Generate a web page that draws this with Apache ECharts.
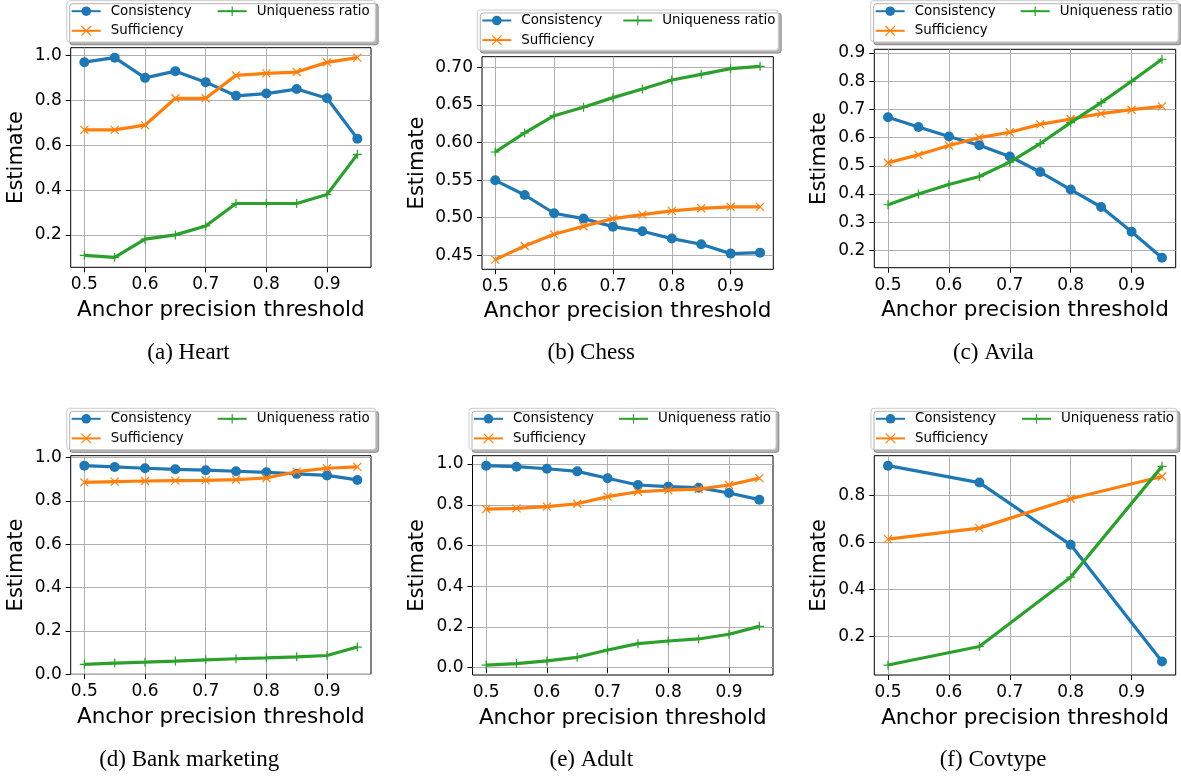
<!DOCTYPE html>
<html><head><meta charset="utf-8">
<script src="https://cdn.jsdelivr.net/npm/echarts@6/dist/echarts.min.js"></script>
<style>html,body{margin:0;padding:0;background:#fff}#c{width:1181px;height:778px}</style>
</head><body><div id="c"></div>
<script>
// ---------------- DATA ----------------
const seriesNames = ['Consistency', 'Sufficiency', 'Uniqueness ratio'];
const thresholds = [0.5, 0.55, 0.6, 0.65, 0.7, 0.75, 0.8, 0.85, 0.9, 0.95];
const covtypeThresholds = [0.5, 0.65, 0.8, 0.95];
const xTickLabels = ['0.5', '0.6', '0.7', '0.8', '0.9'];
const xAxisTitle = 'Anchor precision threshold';
const yAxisTitle = 'Estimate';

const heartConsistency = [0.970, 0.990, 0.900, 0.930, 0.881, 0.820, 0.830, 0.850, 0.809, 0.629];
const heartSufficiency = [0.668, 0.668, 0.689, 0.809, 0.809, 0.911, 0.920, 0.926, 0.969, 0.990];
const heartUniqueness  = [0.109, 0.100, 0.181, 0.200, 0.240, 0.340, 0.340, 0.340, 0.380, 0.559];
const heartYTickLabels = ['0.2', '0.4', '0.6', '0.8', '1.0'];

const chessConsistency = [0.5497, 0.5302, 0.5059, 0.4988, 0.4881, 0.4819, 0.4722, 0.4646, 0.4522, 0.4535];
const chessSufficiency = [0.4442, 0.4624, 0.4779, 0.4886, 0.4988, 0.5041, 0.5090, 0.5125, 0.5143, 0.5143];
const chessUniqueness  = [0.5874, 0.6127, 0.6357, 0.6468, 0.6597, 0.6712, 0.6832, 0.6907, 0.6982, 0.7013];
const chessYTickLabels = ['0.45', '0.50', '0.55', '0.60', '0.65', '0.70'];

const avilaConsistency = [0.672, 0.638, 0.604, 0.573, 0.533, 0.478, 0.416, 0.354, 0.266, 0.174];
const avilaSufficiency = [0.511, 0.539, 0.572, 0.600, 0.619, 0.647, 0.666, 0.685, 0.699, 0.711];
const avilaUniqueness  = [0.362, 0.400, 0.434, 0.462, 0.513, 0.579, 0.653, 0.724, 0.800, 0.878];
const avilaYTickLabels = ['0.2', '0.3', '0.4', '0.5', '0.6', '0.7', '0.8', '0.9'];

const bankConsistency = [0.963, 0.957, 0.951, 0.946, 0.942, 0.937, 0.932, 0.925, 0.918, 0.897];
const bankSufficiency = [0.886, 0.889, 0.892, 0.894, 0.895, 0.898, 0.906, 0.935, 0.951, 0.957];
const bankUniqueness  = [0.045, 0.051, 0.055, 0.060, 0.066, 0.071, 0.075, 0.080, 0.086, 0.125];
const bankYTickLabels = ['0.0', '0.2', '0.4', '0.6', '0.8', '1.0'];

const adultConsistency = [0.992, 0.987, 0.977, 0.964, 0.930, 0.897, 0.889, 0.884, 0.858, 0.825];
const adultSufficiency = [0.779, 0.782, 0.791, 0.805, 0.840, 0.864, 0.872, 0.877, 0.897, 0.931];
const adultUniqueness  = [0.013, 0.020, 0.033, 0.051, 0.087, 0.118, 0.131, 0.141, 0.164, 0.203];
const adultYTickLabels = ['0.0', '0.2', '0.4', '0.6', '0.8', '1.0'];

const covtypeConsistency = [0.927, 0.855, 0.590, 0.093];
const covtypeSufficiency = [0.614, 0.661, 0.786, 0.881];
const covtypeUniqueness  = [0.078, 0.157, 0.452, 0.924];
const covtypeYTickLabels = ['0.2', '0.4', '0.6', '0.8'];

const captions = ['(a) Heart', '(b) Chess', '(c) Avila', '(d) Bank marketing', '(e) Adult', '(f) Covtype'];

// ---------------- LAYOUT / STYLE ----------------
const colors = ['#1f77b4', '#ff7f0e', '#2ca02c'];
const symbols = ['circle', 'path://M0,0L10,10M10,0L0,10', 'path://M5,0L5,10M0,5L10,5'];
const symbolSizes = [10, 8, 9];
const SANS = 'DejaVu Sans';
const SERIF = 'Liberation Serif';

const panels = [
  { x: thresholds, ys: [heartConsistency, heartSufficiency, heartUniqueness], yt: heartYTickLabels,
    grid: {left: 70.7, top: 47.7, width: 300.3, height: 219.6},
    box: {left: 66.7, top: 0.7, width: 307.6, height: 42, col2: 150},
    cap: {x: 188.5, y: 353}, yGap: 44, xGap: 32 },
  { x: thresholds, ys: [chessConsistency, chessSufficiency, chessUniqueness], yt: chessYTickLabels,
    grid: {left: 482, top: 56.7, width: 291.3, height: 212.6},
    box: {left: 477.3, top: 10, width: 300, height: 41, col2: 145},
    cap: {x: 591.3, y: 353}, yGap: 54, xGap: 31 },
  { x: thresholds, ys: [avilaConsistency, avilaSufficiency, avilaUniqueness], yt: avilaYTickLabels,
    grid: {left: 874.3, top: 49.3, width: 301.4, height: 218.4},
    box: {left: 870.7, top: 0.7, width: 306.5, height: 42, col2: 149},
    cap: {x: 993.3, y: 353}, yGap: 44, xGap: 32 },
  { x: thresholds, ys: [bankConsistency, bankSufficiency, bankUniqueness], yt: bankYTickLabels,
    grid: {left: 70.7, top: 455.7, width: 300.3, height: 218.6},
    box: {left: 66.7, top: 408.3, width: 308, height: 42, col2: 150},
    cap: {x: 189.2, y: 760}, yGap: 44, xGap: 32 },
  { x: thresholds, ys: [adultConsistency, adultSufficiency, adultUniqueness], yt: adultYTickLabels,
    grid: {left: 472.5, top: 455.7, width: 300.5, height: 219.3},
    box: {left: 469, top: 408.3, width: 306, height: 42, col2: 149},
    cap: {x: 591.3, y: 760}, yGap: 44, xGap: 32 },
  { x: covtypeThresholds, ys: [covtypeConsistency, covtypeSufficiency, covtypeUniqueness], yt: covtypeYTickLabels,
    grid: {left: 874.3, top: 455.7, width: 301.4, height: 219.3},
    box: {left: 871, top: 408.3, width: 305, height: 42, col2: 150},
    cap: {x: 993, y: 760}, yGap: 44, xGap: 32 }
];

function padExtent(vals) {
  const lo = Math.min.apply(null, vals), hi = Math.max.apply(null, vals);
  const p = (hi - lo) * 0.05;
  return [lo - p, hi + p];
}
function labelFor(list) {
  return function (v) {
    for (let i = 0; i < list.length; i++) if (Math.abs(Number(list[i]) - v) < 1e-9) return list[i];
    return '';
  };
}
const LEG_FONT = 13.4;
const ctx = document.createElement('canvas').getContext('2d');
ctx.font = LEG_FONT + 'px "' + SANS + '"';
const col1TextW = Math.max(ctx.measureText(seriesNames[0]).width, ctx.measureText(seriesNames[1]).width);

const LEG_ITEM_W = 29, LEG_ITEM_H = 12, LEG_TXT_PAD = 5, LEG_PAD_L = 4, LEG_PAD_T = 4, LEG_ROW_H = 13.4, LEG_GAP = 6.6;

const option = {
  animation: false,
  backgroundColor: '#fff',
  title: [], grid: [], xAxis: [], yAxis: [], legend: [], series: []
};

panels.forEach(function (p, i) {
  option.grid.push(Object.assign({show: true, borderColor: '#000', borderWidth: 1, backgroundColor: 'transparent',
    containLabel: false, outerBoundsMode: 'none'}, p.grid));
  const xExt = padExtent(p.x);
  const allY = [].concat(p.ys[0], p.ys[1], p.ys[2]);
  const yExt = padExtent(allY);
  const xVals = xTickLabels.map(Number);
  const yVals = p.yt.map(Number);
  option.xAxis.push({
    type: 'value', gridIndex: i, min: xExt[0], max: xExt[1],
    name: xAxisTitle, nameLocation: 'middle', nameGap: p.xGap,
    nameTextStyle: {fontFamily: SANS, fontSize: 21.5, color: '#000'},
    axisLine: {show: false},
    axisTick: {show: true, customValues: xVals, length: 5, lineStyle: {color: '#000', width: 1}},
    axisLabel: {customValues: xVals, formatter: labelFor(xTickLabels), margin: 9,
      fontFamily: SANS, fontSize: 17, color: '#000'},
    splitLine: {show: true, lineStyle: {color: '#b0b0b0', width: 1}}
  });
  option.yAxis.push({
    type: 'value', gridIndex: i, min: yExt[0], max: yExt[1],
    name: yAxisTitle, nameLocation: 'middle', nameGap: p.yGap,
    nameTextStyle: {fontFamily: SANS, fontSize: 21, color: '#000'},
    axisLine: {show: false},
    axisTick: {show: true, customValues: yVals, length: 5, lineStyle: {color: '#000', width: 1}},
    axisLabel: {customValues: yVals, formatter: labelFor(p.yt), margin: 9,
      fontFamily: SANS, fontSize: 17, color: '#000'},
    splitLine: {show: true, lineStyle: {color: '#b0b0b0', width: 1}}
  });
  for (let k = 0; k < 3; k++) {
    option.series.push({
      type: 'line', name: seriesNames[k], xAxisIndex: i, yAxisIndex: i,
      data: p.x.map(function (xv, j) { return [xv, p.ys[k][j]]; }),
      symbol: symbols[k], symbolSize: symbolSizes[k], showSymbol: true,
      lineStyle: {color: colors[k], width: 3.2},
      itemStyle: k === 0 ? {color: colors[k]} : {color: colors[k], borderColor: colors[k], borderWidth: 1.2},
      emphasis: {disabled: true}, silent: true, z: 2 + k
    });
  }
  const contentW = LEG_ITEM_W + 5 + LEG_TXT_PAD + col1TextW;
  const padR = p.box.width - LEG_PAD_L - contentW;
  const padB = p.box.height - LEG_PAD_T - LEG_ROW_H * 2 - LEG_GAP;
  const legendCommon = {
    itemWidth: LEG_ITEM_W, itemHeight: LEG_ITEM_H, selectedMode: false,
    textStyle: {fontFamily: SANS, fontSize: LEG_FONT, color: '#000', padding: [0, 0, 0, LEG_TXT_PAD]},
    itemStyle: {borderWidth: 1.2}
  };
  option.legend.push(Object.assign({}, legendCommon, {
    orient: 'vertical', left: p.box.left, top: p.box.top,
    padding: [LEG_PAD_T, padR, padB, LEG_PAD_L], itemGap: LEG_GAP,
    backgroundColor: '#fff', borderColor: '#cccccc', borderWidth: 1, borderRadius: 3,
    shadowColor: 'rgba(0,0,0,0.3)', shadowOffsetX: 3, shadowOffsetY: 3, shadowBlur: 0,
    data: [seriesNames[0], seriesNames[1]], z: 4
  }));
  option.legend.push(Object.assign({}, legendCommon, {
    orient: 'vertical', left: p.box.left + p.box.col2, top: p.box.top + LEG_PAD_T,
    padding: 0, data: [seriesNames[2]], z: 6
  }));
  option.title.push({
    text: captions[i], left: p.cap.x, top: p.cap.y, padding: 0,
    textAlign: 'center', textVerticalAlign: 'middle',
    textStyle: {fontFamily: SERIF, fontSize: 23, fontWeight: 'normal', color: '#000'}
  });
});

const chart = echarts.init(document.getElementById('c'), null, {renderer: 'canvas'});
chart.setOption(option);
</script>
</body></html>
